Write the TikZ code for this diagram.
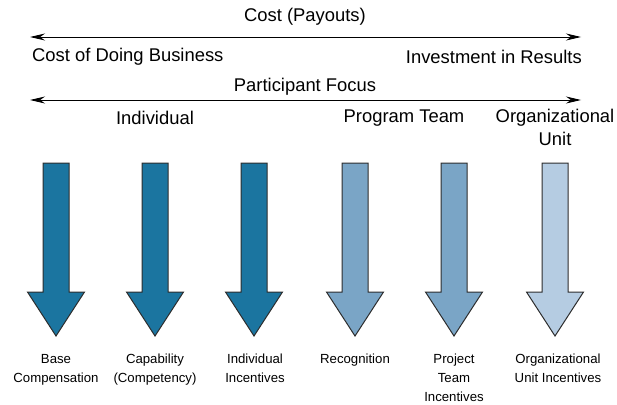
\documentclass[tikz,border=0pt]{standalone}
\usepackage{fontspec}
\setmainfont{Liberation Sans}
\usetikzlibrary{arrows.meta}
\definecolor{darkb}{RGB}{27,117,160}
\definecolor{midb}{RGB}{122,165,198}
\definecolor{lightb}{RGB}{181,204,226}
\definecolor{edgec}{RGB}{45,45,45}
\tikzset{
  bigtext/.style={font=\fontsize{18.4}{22}\selectfont, inner sep=0pt},
  smalltext/.style={font=\fontsize{13.2}{18.8}\selectfont, align=center, inner sep=0pt, anchor=north},
  scalearrow/.style={line width=0.9pt, {Stealth[length=15pt,width=7pt]}-{Stealth[length=15pt,width=7pt]}},
  downarrow/.style={draw=edgec, line width=1pt, line join=miter},
}
\newcommand{\dnarrow}[2]{%
  \path[downarrow, fill=#2] (#1-13,-163) -- (#1+13,-163) -- (#1+13,-292) -- (#1+28.5,-292)
    -- (#1,-336) -- (#1-28.5,-292) -- (#1-13,-292) -- cycle;}
\begin{document}
\begin{tikzpicture}[x=1pt,y=1pt]
\useasboundingbox (0,0) rectangle (617,-404);
% top scale
\coordinate (c1l) at (30,-37);
\coordinate (c1r) at (581,-37);
\draw[scalearrow] (c1l) -- (c1r);
\node[bigtext] (cost) at (305,-17) {Cost (Payouts)};
\node[bigtext, anchor=west] (codb) at (32,-57) {Cost of Doing Business};
\node[bigtext, anchor=east] (inv) at (582,-57) {Investment in Results};
% second scale
\coordinate (c2l) at (30,-100);
\coordinate (c2r) at (581,-100);
\draw[scalearrow] (c2l) -- (c2r);
\node[bigtext] (pf) at (305,-87) {Participant Focus};
\node[bigtext] (ind) at (155,-118) {Individual};
\node[bigtext] (pt) at (404,-118) {Program Team};
\node[bigtext] (org) at (555,-118) {Organizational};
\node[bigtext] (unit) at (555,-139) {Unit};
% down arrows
\dnarrow{56}{darkb}
\dnarrow{155}{darkb}
\dnarrow{254}{darkb}
\dnarrow{355}{midb}
\dnarrow{454}{midb}
\dnarrow{555}{lightb}
% labels
\node[smalltext] (l1) at (56,-354) {Base\\Compensation};
\node[smalltext] (l2) at (155,-354) {Capability\\(Competency)};
\node[smalltext] (l3) at (255,-354) {Individual\\Incentives};
\node[smalltext] (l4) at (355,-354) {Recognition};
\node[smalltext] (l5) at (454,-354) {Project\\Team\\Incentives};
\node[smalltext] (l6) at (558,-354) {Organizational\\Unit Incentives};
\end{tikzpicture}
\end{document}
